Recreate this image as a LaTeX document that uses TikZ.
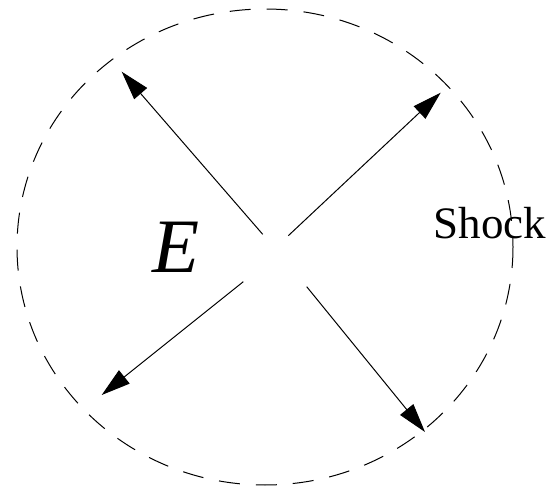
\documentclass[tikz,border=0pt]{standalone}
\usepackage{fontspec}
\setmainfont{Liberation Serif}
\usetikzlibrary{arrows.meta,positioning}

\begin{document}
\begin{tikzpicture}[x=1pt,y=-1pt,line width=1pt,
  blast/.style={-{Triangle[length=29pt,width=17pt]}}]
  \useasboundingbox (0,0) rectangle (552,494);
  % Shock front
  \draw[dash pattern=on 21pt off 16pt] (265,247) ellipse[x radius=248,y radius=238];
  % Arrow ends
  \coordinate (ul0) at (262.7,234.3);
  \coordinate (ur0) at (288.3,235.7);
  \coordinate (ll0) at (243.3,281.7);
  \coordinate (lr0) at (306.7,286.7);
  \coordinate (ul) at (121.7,71.7);
  \coordinate (ur) at (440.7,92.7);
  \coordinate (ll) at (101.7,395);
  \coordinate (lr) at (425,432);
  % Outward arrows
  \draw[blast] (ul0) -- (ul);
  \draw[blast] (ur0) -- (ur);
  \draw[blast] (ll0) -- (ll);
  \draw[blast] (lr0) -- (lr);
  % Labels
  \node[anchor=base west,inner sep=0pt,font=\fontsize{77}{80}\selectfont\itshape] (energy) at (152,273) {E};
  \node[anchor=base west,inner sep=0pt,font=\fontsize{45}{50}\selectfont] (shock) at (433,239) {Shock};
\end{tikzpicture}
\end{document}
